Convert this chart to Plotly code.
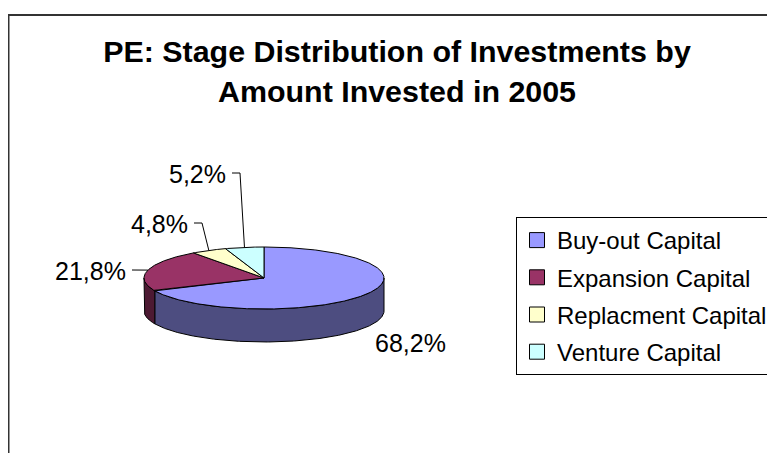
import numpy as np
import plotly.graph_objects as go

# ---- data ----
categories = ["Buy-out Capital", "Expansion Capital", "Replacment Capital", "Venture Capital"]
values = [68.2, 21.8, 4.8, 5.2]
title_lines = ["PE: Stage Distribution of Investments by", "Amount Invested in 2005"]

# ---- styles ----
top_colors = ["#9999FF", "#993366", "#FFFFCC", "#CCFFFF"]
side_colors = ["#4D4D80", "#4D1A33", "#80805F", "#5F8080"]
FONT = "Liberation Sans, Arial, sans-serif"

# page body has an 8px margin; axes are set so that data units = screen pixels
OX, OY = 8, 8
W, H = 767, 445

# pie geometry (screen-pixel axes)
CX, CY, RX, RY, DEPTH = 264, 278, 120, 31, 33

# label text placement and anchors
label_pos = [(373, 343, "left"), (128, 271, "right"), (190, 224, "right"), (228, 174, "right")]
leader = [False, True, True, True]


def pt(theta, dz=0.0):
    t = np.radians(theta)
    return CX + RX * np.sin(t), CY - RY * np.cos(t) + dz


total = float(sum(values))
edges = np.concatenate([[0.0], np.cumsum(values) / total * 360.0])

fig = go.Figure()

# side walls (front half: 90..270 degrees clockwise from top)
for i, v in enumerate(values):
    a, b = max(edges[i], 90.0), min(edges[i + 1], 270.0)
    if a < b:
        ts = np.linspace(a, b, max(2, int((b - a) * 2)))
        xt, yt = pt(ts)
        xb, yb = pt(ts[::-1], DEPTH)
        xs = np.concatenate([xt, xb, xt[:1]])
        ys = np.concatenate([yt, yb, yt[:1]])
        fig.add_trace(go.Scatter(x=xs, y=ys, mode="lines", fill="toself",
                                 fillcolor=side_colors[i], line=dict(color="black", width=1),
                                 hoverinfo="skip", showlegend=False))

# top faces
for i, v in enumerate(values):
    a, b = edges[i], edges[i + 1]
    ts = np.linspace(a, b, max(2, int((b - a) * 2)))
    xa, ya = pt(ts)
    xs = np.concatenate([[CX], xa, [CX]])
    ys = np.concatenate([[CY], ya, [CY]])
    fig.add_trace(go.Scatter(x=xs, y=ys, mode="lines", fill="toself",
                             fillcolor=top_colors[i], line=dict(color="black", width=1),
                             name=categories[i], text=[f"{v}%"] * len(xs),
                             hoverinfo="name+text", showlegend=False))

# labels + leader lines
for i, v in enumerate(values):
    mid = (edges[i] + edges[i + 1]) / 2
    mx, my = pt(mid)
    lx, ly, anc = label_pos[i]
    txt = f"{v:.1f}%".replace(".", ",")
    fig.add_annotation(x=lx, y=ly, xref="x", yref="y", text=txt, showarrow=False,
                       xanchor=anc, yanchor="middle",
                       font=dict(family=FONT, size=25, color="black"))
    if leader[i]:
        sx, sy = lx + 4, ly - 1
        fig.add_trace(go.Scatter(x=[sx, sx + 8, mx], y=[sy, sy, my], mode="lines",
                                 line=dict(color="black", width=1),
                                 hoverinfo="skip", showlegend=False))

# legend entries
for i, c in enumerate(categories):
    fig.add_trace(go.Scatter(x=[None], y=[None], mode="markers", name=c,
                             legendgroup=f"g{i}",
                             marker=dict(symbol="square", size=15, color=top_colors[i],
                                         line=dict(color="black", width=1)),
                             showlegend=True))

# outer chart frame
fig.add_shape(type="rect", xref="x", yref="y", x0=8.5, y0=15, x1=OX + W + 20, y1=OY + H + 20,
              line=dict(color="#333333", width=2), fillcolor="rgba(0,0,0,0)", layer="above")

fig.update_layout(
    width=W, height=H,
    margin=dict(l=0, r=0, t=0, b=0, autoexpand=False),
    paper_bgcolor="white", plot_bgcolor="white",
    xaxis=dict(range=[OX, OX + W], visible=False, fixedrange=True),
    yaxis=dict(range=[OY + H, OY], visible=False, fixedrange=True),
    title=dict(text="<br>".join(f"<b>{t}</b>" for t in title_lines),
               x=(397 - OX) / W, xanchor="center", xref="container",
               y=1 - (62 - OY) / H, yanchor="top", yref="container",
               font=dict(family=FONT, size=30.4, color="black")),
    showlegend=True,
    legend=dict(x=(516 - OX) / W, y=1 - (217 - OY) / H, xanchor="left", yanchor="top",
                bgcolor="white", bordercolor="black", borderwidth=1,
                font=dict(family=FONT, size=24, color="black"),
                itemsizing="trace", tracegroupgap=3, traceorder="grouped"),
    font=dict(family=FONT),
)

fig.write_html("out.html")
